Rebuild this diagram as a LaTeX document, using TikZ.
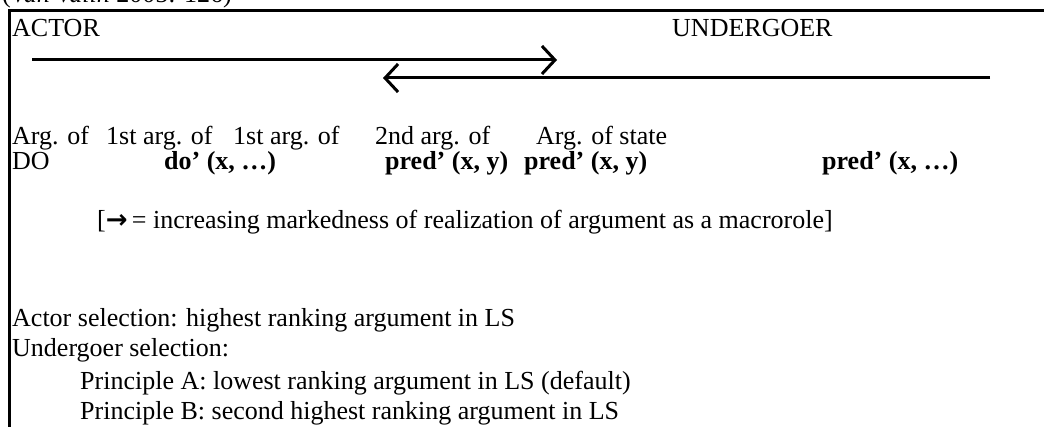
\documentclass[tikz,border=0pt]{standalone}
\usepackage{fontspec}
\setmainfont{Liberation Serif}
\newfontfamily\arrowfont{DejaVu Sans}
\usetikzlibrary{arrows.meta}
\begin{document}
\begin{tikzpicture}[x=1pt,y=-1pt,
  txt/.style={anchor=base west,inner sep=0pt,font=\fontsize{26}{30}\selectfont},
  bld/.style={anchor=base west,inner sep=0pt,font=\fontsize{26}{30}\selectfont\bfseries},
  frame/.style={line width=3pt,black},
  scalearrow/.style={line width=3pt,-{Straight Barb[length=13pt,width=28pt,line width=3pt]}}]
\useasboundingbox (0,0) rectangle (1044,427);
% cut-off citation
\node[txt] (cite) at (2,3) {(\textit{Van Valin} 2005: 126)};
% frame
\coordinate (fbl) at (9,440);
\coordinate (ftl) at (9,11);
\coordinate (ftr) at (1060,11);
\draw[frame] (fbl) -- (ftl) -- (ftr);
% headings
\node[txt] (actor) at (12,37) {ACTOR};
\node[txt] (under) at (672,37) {UNDERGOER};
% arrows
\coordinate (a1s) at (32,60);
\coordinate (a1e) at (557,60);
\coordinate (a2s) at (990,78);
\coordinate (a2e) at (383,78);
\draw[scalearrow] (a1s) -- (a1e);
\draw[scalearrow] (a2s) -- (a2e);
% row 1
\node[txt] (r1a) at (12,145) {Arg. of};
\node[txt] (r1b) at (106,145) {1st arg. of};
\node[txt] (r1c) at (233,145) {1st arg. of};
\node[txt] (r1d) at (375,145) {2nd arg. of};
\node[txt] (r1e) at (536,145) {Arg. of state};
% row 2
\node[txt] (r2a) at (12,170) {DO};
\node[bld] (r2b) at (164,170) {do’ (x, …)};
\node[bld] (r2c) at (385,170) {pred’ (x, y)};
\node[bld] (r2d) at (524,170) {pred’ (x, y)};
\node[bld] (r2e) at (822,170) {pred’ (x, …)};
% legend
\node[txt] (legend) at (97,229) {[{\arrowfont\bfseries →}\,= increasing markedness of realization of argument as a macrorole]};
% selection principles
\node[txt] (sel1) at (12,327) {Actor selection: highest ranking argument in LS};
\node[txt] (sel2) at (12,357) {Undergoer selection:};
\node[txt] (sel3) at (80,389) {Principle A: lowest ranking argument in LS (default)};
\node[txt] (sel4) at (80,419) {Principle B: second highest ranking argument in LS};
\end{tikzpicture}
\end{document}
